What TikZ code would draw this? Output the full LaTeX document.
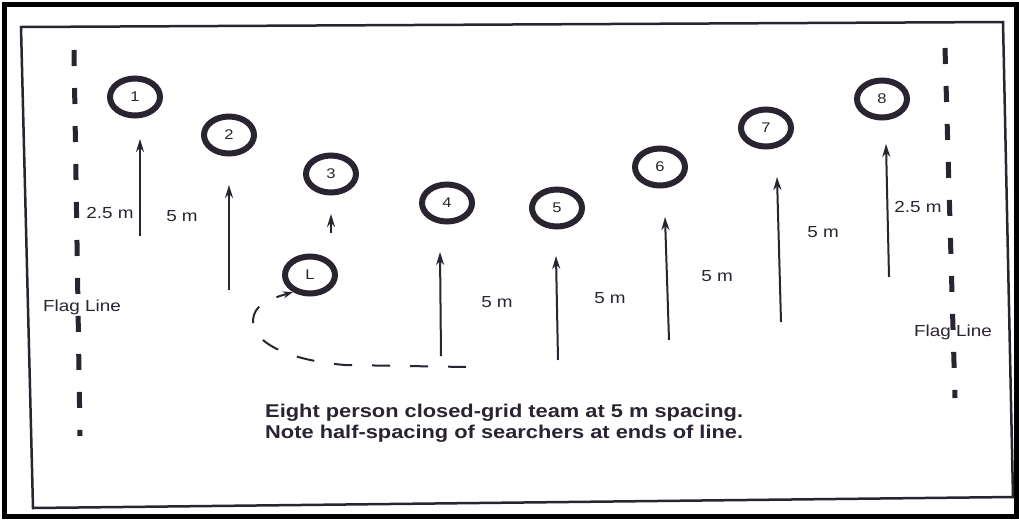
\documentclass[tikz,border=0pt]{standalone}
\usepackage{fontspec}
\setmainfont{Liberation Sans}
\newfontfamily\wide[FakeStretch=1.18]{Liberation Sans}
\usetikzlibrary{shapes.geometric,arrows.meta}
\definecolor{ink}{HTML}{2A2330}
\begin{document}
\begin{tikzpicture}[x=1pt,y=-1pt,
  ring/.style={ellipse,draw=ink,line width=6pt,minimum width=50pt,minimum height=37pt,inner sep=0pt,font=\wide\fontsize{14}{14}\selectfont,text=ink},
  move/.style={draw=ink,line width=2pt,-{Stealth[length=13pt,width=8pt]}},
  flag/.style={draw=ink,line width=5pt,dash pattern=on 16pt off 22pt},
  lbl/.style={font=\wide\fontsize{16}{16}\selectfont,text=ink,inner sep=0pt},
  capt/.style={font=\wide\bfseries\fontsize{18.5}{21}\selectfont,text=ink,align=left,inner sep=0pt},
  track/.style={draw=ink,line width=2pt,dash pattern=on 18pt off 20pt,-{Stealth[length=10pt,width=7pt]}}]
\useasboundingbox (0,0) rectangle (1019,520);
\fill[white] (0,0) rectangle (1019,520);
% frames
\draw[black,line width=5pt] (4,4) rectangle (1016,516);
\draw[ink,line width=2.5pt] (21,27) -- (1003,22) -- (1013,497) -- (33,508) -- cycle;
% flag lines
\coordinate (fl1) at (74,50);
\coordinate (fl2) at (80,436);
\coordinate (fr1) at (945,48);
\coordinate (fr2) at (955,398);
\draw[flag] (fl1) -- (fl2);
\draw[flag] (fr1) -- (fr2);
% searchers
\node[ring] (n1) at (135,97) {1};
\node[ring] (n2) at (229,135) {2};
\node[ring] (n3) at (331,174) {3};
\node[ring] (nL) at (310,275) {L};
\node[ring] (n4) at (447,203) {4};
\node[ring] (n5) at (557,208) {5};
\node[ring] (n6) at (660,167) {6};
\node[ring] (n7) at (766,128) {7};
\node[ring] (n8) at (882,99) {8};
% movement arrows
\coordinate (a1s) at (140,236); \coordinate (a1e) at (140,139);
\coordinate (a2s) at (229,290); \coordinate (a2e) at (229,185);
\coordinate (a3s) at (331,233); \coordinate (a3e) at (331,214);
\coordinate (a4s) at (441,356); \coordinate (a4e) at (440,252);
\coordinate (a5s) at (558,360); \coordinate (a5e) at (556,256);
\coordinate (a6s) at (669,340); \coordinate (a6e) at (665,217);
\coordinate (a7s) at (781,322); \coordinate (a7e) at (777,177);
\coordinate (a8s) at (889,277); \coordinate (a8e) at (886,144);
\draw[move] (a1s) -- (a1e);
\draw[move] (a2s) -- (a2e);
\draw[move] (a3s) -- (a3e);
\draw[move] (a4s) -- (a4e);
\draw[move] (a5s) -- (a5e);
\draw[move] (a6s) -- (a6e);
\draw[move] (a7s) -- (a7e);
\draw[move] (a8s) -- (a8e);
% leader's track
\coordinate (ts) at (466,367);
\draw[track] (ts) -- (345,365) .. controls (295,361) and (252,345) .. (253,320) .. controls (254,306) and (266,300) .. (nL.225);
% labels
\node[lbl] (l1) at (110,213) {2.5 m};
\node[lbl] (l2) at (182,216) {5 m};
\node[lbl] (l4) at (497,302) {5 m};
\node[lbl] (l5) at (610,298) {5 m};
\node[lbl] (l6) at (717,276) {5 m};
\node[lbl] (l7) at (823,232) {5 m};
\node[lbl] (l8) at (918,207) {2.5 m};
\node[lbl] (fla) at (82,307) {Flag Line};
\node[lbl] (flb) at (953,332) {Flag Line};
% caption
\node[capt,anchor=west] (cap) at (265,423) {Eight person closed-grid team at 5 m spacing.\\Note half-spacing of searchers at ends of line.};
\end{tikzpicture}
\end{document}
